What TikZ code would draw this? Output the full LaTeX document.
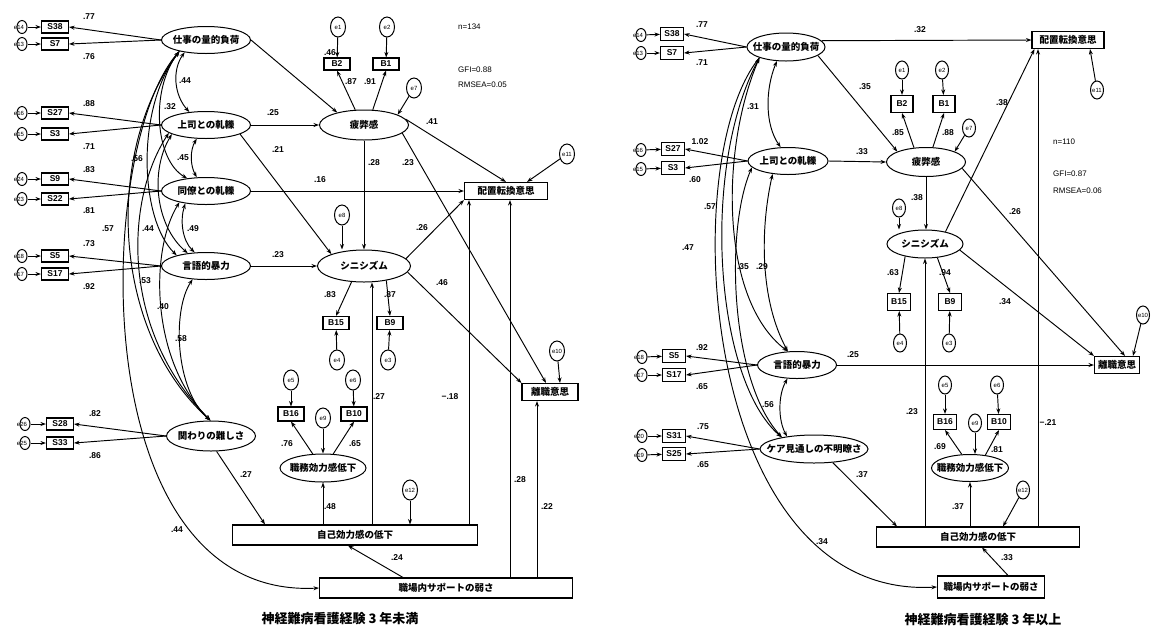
\documentclass[tikz,border=0pt]{standalone}
\usepackage{fontspec}
\setmainfont{Liberation Sans}
\newfontfamily\jp{Noto Sans CJK JP}
\usetikzlibrary{shapes.geometric,arrows.meta}
\newcommand\elab[1]{\makebox[0pt]{\kern-6pt #1}}
\begin{document}
\begin{tikzpicture}[x=1pt,y=-1pt,
  lat/.style={ellipse,draw,line width=1pt,inner sep=-20pt,font=\jp\bfseries\fontsize{9.5}{10}\selectfont},
  obs/.style={rectangle,draw,line width=1.1pt,inner sep=0pt,font=\bfseries\fontsize{8.5}{10}\selectfont},
  jbox/.style={rectangle,draw,line width=1.1pt,inner sep=0pt,font=\jp\bfseries\fontsize{9.5}{10}\selectfont},
  err/.style={ellipse,draw,line width=1pt,inner sep=-10pt,font=\fontsize{6}{6}\selectfont},
  errs/.style={err,minimum width=10pt,minimum height=13pt},
  errl/.style={err,minimum width=15pt,minimum height=20pt},
  errm/.style={err,minimum width=13pt,minimum height=18pt},
  obsS/.style={obs,minimum width=27pt,minimum height=12pt},
  obsR/.style={obs,minimum width=23pt,minimum height=13pt},
  lab/.style={font=\bfseries\fontsize{8.5}{9}\selectfont,inner sep=0pt},
  stat/.style={font=\fontsize{8}{8}\selectfont,inner sep=0pt,anchor=west},
  ttl/.style={font=\jp\bfseries\fontsize{13}{14}\selectfont,inner sep=0pt},
  arr/.style={line width=0.95pt,-{Stealth[length=5.5pt,width=4pt]}},
  dbl/.style={line width=0.95pt,{Stealth[length=5.5pt,width=4pt]}-{Stealth[length=5.5pt,width=4pt]}},
]
\fill[white] (0,0) rectangle (1153,633);
\useasboundingbox (0,0) rectangle (1153,633);

%================ LEFT MODEL ================
\node[errs] (le14) at (22,27) {\elab{e14}};
\node[obsS] (lS38) at (55,27) {S38};
\node[errs] (le13) at (22,44) {\elab{e13}};
\node[obsS] (lS7) at (55,44) {S7};
\node[errs] (le16) at (22,113) {\elab{e16}};
\node[obsS] (lS27) at (55,113) {S27};
\node[errs] (le15) at (22,134) {\elab{e15}};
\node[obsS] (lS3) at (55,134) {S3};
\node[errs] (le24) at (22,179) {\elab{e24}};
\node[obsS] (lS9) at (55,179) {S9};
\node[errs] (le23) at (22,199) {\elab{e23}};
\node[obsS] (lS22) at (55,199) {S22};
\node[errs] (le18) at (22,256) {\elab{e18}};
\node[obsS] (lS5) at (55,256) {S5};
\node[errs] (le17) at (22,274) {\elab{e17}};
\node[obsS] (lS17) at (55,274) {S17};
\node[errs] (le26) at (25,424) {\elab{e26}};
\node[obsS] (lS28) at (60,424) {S28};
\node[errs] (le25) at (25,443) {\elab{e25}};
\node[obsS] (lS33) at (60,443) {S33};

\node[lat,minimum width=89pt,minimum height=27pt] (LA) at (206,40) {仕事の量的負荷};
\node[lat,minimum width=89pt,minimum height=27pt] (LB) at (206,125) {上司との軋轢};
\node[lat,minimum width=89pt,minimum height=27pt] (LC) at (206,191) {同僚との軋轢};
\node[lat,minimum width=89pt,minimum height=27pt] (LD) at (206,266) {言語的暴力};
\node[lat,minimum width=89pt,minimum height=30pt] (LE) at (211,436) {関わりの難しさ};
\node[lat,minimum width=89pt,minimum height=30pt] (LF) at (364,125) {疲弊感};
\node[lat,minimum width=93pt,minimum height=32pt] (LG) at (364,266) {シニシズム};
\node[lat,minimum width=86pt,minimum height=28pt] (LH) at (323,468) {職務効力感低下};

\node[jbox,minimum width=83pt,minimum height=17pt] (LTO) at (506,191) {配置転換意思};
\node[jbox,minimum width=56pt,minimum height=17pt] (LTR) at (550,392) {離職意思};
\node[jbox,minimum width=245pt,minimum height=20pt] (LSE) at (355,535) {自己効力感の低下};
\node[jbox,minimum width=253pt,minimum height=20pt] (LSUP) at (446,588) {職場内サポートの弱さ};
\node[obs,minimum width=26pt,minimum height=12pt] (LB2) at (337,64) {B2};
\node[obs,minimum width=26pt,minimum height=12pt] (LB1) at (386,64) {B1};
\node[obs,minimum width=26pt,minimum height=13pt] (LB15) at (336,323) {B15};
\node[obs,minimum width=26pt,minimum height=13pt] (LB9) at (390,323) {B9};
\node[obs,minimum width=26pt,minimum height=14pt] (LB16) at (291,414) {B16};
\node[obs,minimum width=26pt,minimum height=14pt] (LB10) at (354,414) {B10};

\node[errl] (le1) at (338,27) {e1};
\node[errl] (le2) at (387,27) {e2};
\node[errl] (le7) at (414,88) {e7};
\node[errl] (le8) at (342,215) {e8};
\node[errl] (le4) at (337,360) {e4};
\node[errl] (le3) at (388,360) {e3};
\node[errl] (le5) at (291,380) {e5};
\node[errl] (le6) at (353,380) {e6};
\node[errl] (le9) at (323,418) {e9};
\node[errl] (le12) at (410,490) {e12};
\node[errl] (le10) at (557,351) {e10};
\node[errl] (le11) at (567,154) {e11};

\foreach \e/\s in {le14/lS38,le13/lS7,le16/lS27,le15/lS3,le24/lS9,le23/lS22,le18/lS5,le17/lS17,le26/lS28,le25/lS33}
  \draw[arr] (\e) -- (\s);
\foreach \f/\s in {LA/lS38,LA/lS7,LB/lS27,LB/lS3,LC/lS9,LC/lS22,LD/lS5,LD/lS17,LE/lS28,LE/lS33}
  \draw[arr] (\f.west) -- (\s.east);

\draw[arr] (LA.east) -- (LF.155);
\draw[arr] (LB.east) -- (LF.west);
\draw[arr] (LB.-15) -- (LG.160);
\draw[arr] (LC.east) -- (LTO.west);
\draw[arr] (LD.east) -- (LG.west);
\draw[arr] (LF.south) -- (LG.north);
\draw[arr] (LF.8) -- (LTO.north);
\draw[arr] (LF.-12) -- ([xshift=-4pt]LTR.north);
\draw[arr] (LG.10) -- (LTO.south west);
\draw[arr] (LG.-8) -- (LTR.north west);
\draw[arr] (LG.-128) -- (LB15.north);
\draw[arr] (LG.-33) -- (LB9.north);
\draw[arr] (le4) -- (LB15);
\draw[arr] (le3) -- (LB9);
\draw[arr] (le8) -- (le8 |- LG.north);
\draw[arr] (le7) -- (LF.17);
\draw[arr] (LF.120) -- (LB2.south);
\draw[arr] (LF.60) -- (LB1.south);
\draw[arr] (le1) -- (LB2);
\draw[arr] (le2) -- (LB1);
\draw[arr] (le5) -- (LB16);
\draw[arr] (le6) -- (LB10);
\draw[arr] (LH.126) -- (LB16.south);
\draw[arr] (LH.54) -- (LB10.south);
\draw[arr] (le9) -- (le9 |- LH.north);
\draw[arr] (LSE.north -| LH.south) -- (LH.south);
\draw[arr] ([xshift=17pt]LSE.north) -- ([xshift=8pt]LG.south);
\draw[arr] ([xshift=114pt]LSE.north) -- ([xshift=-37pt]LTO.south);
\draw[arr] ([xshift=64pt]LSUP.north) -- ([xshift=4pt]LTO.south);
\draw[arr] ([xshift=91pt]LSUP.north) -- ([xshift=-13pt]LTR.south);
\draw[arr] (le12) -- (le12 |- LSE.north);
\draw[arr] ([xshift=-43pt]LSUP.north) -- ([xshift=-7pt]LSE.south);
\draw[arr] (LE.-70) -- ([xshift=-90pt]LSE.north);
\draw[arr] (le11) -- ([xshift=21pt]LTO.north);
\draw[arr] (le10) -- ([xshift=10pt]LTR.north);
\draw[arr] (LA.-157) .. controls (95,140) and (80,600) .. (LSUP.west);

\draw[dbl] (LA.-150) .. controls (172,70) and (174,95) .. (LB.142);
\draw[dbl] (LA.-157) .. controls (150,90) and (155,160) .. (LC.146);
\draw[dbl] (LA.-157) .. controls (135,110) and (140,220) .. (LD.160);
\draw[dbl] (LA.-157) .. controls (105,150) and (110,330) .. (LE.92);
\draw[dbl] (LB.-124) .. controls (190,150) and (190,165) .. (LC.124);
\draw[dbl] (LB.-165) .. controls (150,170) and (155,225) .. (LD.145);
\draw[dbl] (LB.-168) .. controls (125,200) and (120,330) .. (LE.92);
\draw[dbl] (LC.-149) .. controls (180,220) and (182,240) .. (LD.130);
\draw[dbl] (LC.-157) .. controls (150,250) and (150,360) .. (LE.92);
\draw[dbl] (LD.-135) .. controls (172,310) and (175,390) .. (LE.92);

\node[lab] (a1) at (89,17) {.77};
\node[lab] (a2) at (89,57) {.76};
\node[lab] (a3) at (89,104) {.88};
\node[lab] (a4) at (89,147) {.71};
\node[lab] (a5) at (89,170) {.83};
\node[lab] (a6) at (89,211) {.81};
\node[lab] (a7) at (89,244) {.73};
\node[lab] (a8) at (89,287) {.92};
\node[lab] (a9) at (95,414) {.82};
\node[lab] (a10) at (95,456) {.86};
\node[lab] (a11) at (185,81) {.44};
\node[lab] (a12) at (170,107) {.32};
\node[lab] (a13) at (183,158) {.45};
\node[lab] (a14) at (137,159) {.56};
\node[lab] (a15) at (108,229) {.57};
\node[lab] (a16) at (148,229) {.44};
\node[lab] (a17) at (193,229) {.49};
\node[lab] (a18) at (145,281) {.53};
\node[lab] (a19) at (163,307) {.40};
\node[lab] (a20) at (181,339) {.58};
\node[lab] (a21) at (330,53) {.46};
\node[lab] (a22) at (273,113) {.25};
\node[lab] (a23) at (278,150) {.21};
\node[lab] (a24) at (320,180) {.16};
\node[lab] (a25) at (278,255) {.23};
\node[lab] (a26) at (351,82) {.87};
\node[lab] (a27) at (370,82) {.91};
\node[lab] (a28) at (432,122) {.41};
\node[lab] (a29) at (374,163) {.28};
\node[lab] (a30) at (408,163) {.23};
\node[lab] (a31) at (422,228) {.26};
\node[lab] (a32) at (442,283) {.46};
\node[lab] (a33) at (330,295) {.83};
\node[lab] (a34) at (390,295) {.87};
\node[lab] (a35) at (287,444) {.76};
\node[lab] (a36) at (355,444) {.65};
\node[lab] (a37) at (330,507) {.48};
\node[lab] (a38) at (379,397) {.27};
\node[lab] (a39) at (450,397) {−.18};
\node[lab] (a40) at (520,480) {.28};
\node[lab] (a41) at (547,507) {.22};
\node[lab] (a42) at (397,558) {.24};
\node[lab] (a43) at (246,475) {.27};
\node[lab] (a44) at (177,530) {.44};
\node[stat] (s1) at (458,27) {n=134};
\node[stat] (s2) at (458,70) {GFI=0.88};
\node[stat] (s3) at (458,85) {RMSEA=0.05};
\node[ttl] (T1) at (340,619) {神経難病看護経験 3 年未満};

%================ RIGHT MODEL ================
\node[errs] (re14) at (641,35) {\elab{e14}};
\node[obsR] (rS38) at (672,34) {S38};
\node[errs] (re13) at (641,53) {\elab{e13}};
\node[obsR] (rS7) at (672,53) {S7};
\node[errs] (re16) at (641,150) {\elab{e16}};
\node[obsR] (rS27) at (673,149) {S27};
\node[errs] (re15) at (641,169) {\elab{e15}};
\node[obsR] (rS3) at (673,168) {S3};
\node[errs] (re18) at (642,357) {\elab{e18}};
\node[obsR] (rS5) at (674,356) {S5};
\node[errs] (re17) at (642,375) {\elab{e17}};
\node[obsR] (rS17) at (674,375) {S17};
\node[errs] (re20) at (642,436) {\elab{e20}};
\node[obsR] (rS31) at (674,436) {S31};
\node[errs] (re19) at (642,455) {\elab{e19}};
\node[obsR] (rS25) at (674,454) {S25};

\node[lat,minimum width=78pt,minimum height=28pt] (RA) at (786,47) {仕事の量的負荷};
\node[lat,minimum width=80pt,minimum height=27pt] (RB) at (788,161) {上司との軋轢};
\node[lat,minimum width=79pt,minimum height=27pt] (RD) at (797,365) {言語的暴力};
\node[lat,minimum width=108pt,minimum height=28pt] (RF) at (814,449) {ケア見通しの不明瞭さ};
\node[lat,minimum width=79pt,minimum height=29pt] (RH) at (926,162) {疲弊感};
\node[lat,minimum width=76pt,minimum height=28pt] (RG) at (925,244) {シニシズム};
\node[lat,minimum width=77pt,minimum height=27pt] (RK) at (970,468) {職務効力感低下};

\node[jbox,minimum width=72pt,minimum height=17pt] (RTO) at (1068,40) {配置転換意思};
\node[jbox,minimum width=45pt,minimum height=17pt] (RTR) at (1117,365) {離職意思};
\node[jbox,minimum width=203pt,minimum height=20pt] (RSE) at (978,537) {自己効力感の低下};
\node[jbox,minimum width=107pt,minimum height=22pt] (RSUP) at (991,587) {職場内サポートの弱さ};
\node[obs,minimum width=22pt,minimum height=17pt] (rB2) at (902,104) {B2};
\node[obs,minimum width=22pt,minimum height=17pt] (rB1) at (944,104) {B1};
\node[obs,minimum width=23pt,minimum height=17pt] (rB15) at (899,302) {B15};
\node[obs,minimum width=23pt,minimum height=17pt] (rB9) at (950,302) {B9};
\node[obs,minimum width=23pt,minimum height=15pt] (rB16) at (945,422) {B16};
\node[obs,minimum width=23pt,minimum height=15pt] (rB10) at (999,422) {B10};

\node[errm] (re1) at (902,70) {e1};
\node[errm] (re2) at (942,70) {e2};
\node[errm] (re7) at (969,128) {e7};
\node[errm] (re8) at (899,208) {e8};
\node[errm] (re4) at (900,343) {e4};
\node[errm] (re3) at (949,343) {e3};
\node[errm] (re5) at (945,385) {e5};
\node[errm] (re6) at (997,385) {e6};
\node[errm] (re9) at (975,423) {e9};
\node[errm] (re12) at (1023,490) {e12};
\node[errm] (re10) at (1143,315) {e10};
\node[errm] (re11) at (1097,90) {e11};

\foreach \e/\s in {re14/rS38,re13/rS7,re16/rS27,re15/rS3,re18/rS5,re17/rS17,re20/rS31,re19/rS25}
  \draw[arr] (\e) -- (\s);
\foreach \f/\s in {RA/rS38,RA/rS7,RB/rS27,RB/rS3,RD/rS5,RD/rS17,RF/rS31,RF/rS25}
  \draw[arr] (\f.west) -- (\s.east);

\draw[arr] (RA.10) -- (RTO.west);
\draw[arr] (RA.-15) -- (RH.160);
\draw[arr] (RB.east) -- (RH.west);
\draw[arr] (RH.south) -- (RH.south |- RG.north);
\draw[arr] (re8) -- (re8 |- RG.north);
\draw[arr] (RG.31) -- ([xshift=3pt]RTO.south west);
\draw[arr] (RH.-10) -- ([xshift=8pt]RTR.north);
\draw[arr] (RG.-10) -- (RTR.north west);
\draw[arr] (re10) -- ([xshift=16pt]RTR.north);
\draw[arr] (re11) -- ([xshift=22pt]RTO.south);
\draw[arr] (RD.east) -- (RTR.west);
\draw[arr] (re7) -- (RH.20);
\draw[arr] (RH.130) -- (rB2.south);
\draw[arr] (RH.65) -- (rB1.south);
\draw[arr] (re1) -- (rB2);
\draw[arr] (re2) -- (rB1);
\draw[arr] (RG.-148) -- (rB15.north);
\draw[arr] (RG.-48) -- (rB9.north);
\draw[arr] (re4) -- (rB15);
\draw[arr] (re3) -- (rB9);
\draw[arr] (re5) -- (rB16);
\draw[arr] (re6) -- (rB10);
\draw[arr] (re9) -- (re9 |- RK.north);
\draw[arr] (RK.121) -- (rB16.south);
\draw[arr] (RK.40) -- (rB10.south);
\draw[arr] (RSE.north -| RK.south) -- (RK.south);
\draw[arr] (RSE.north -| RG.south) -- (RG.south);
\draw[arr] ([xshift=60pt]RSE.north) -- ([xshift=-30pt]RTO.south);
\draw[arr] (re12) -- ([xshift=25pt]RSE.north);
\draw[arr] ([xshift=17pt]RSUP.north) -- ([xshift=4pt]RSE.south);
\draw[arr] (RF.-36) -- ([xshift=-81pt]RSE.north);
\draw[arr] (RA.-158) .. controls (675,160) and (700,600) .. (RSUP.west);

\draw[dbl] (RA.-123) .. controls (765,90) and (765,125) .. (RB.118);
\draw[dbl] (RA.-158) .. controls (720,150) and (720,300) .. (RD.124);
\draw[dbl] (RA.-158) .. controls (700,170) and (715,380) .. (RF.160);
\draw[dbl] (RB.-140) .. controls (760,230) and (760,300) .. (RD.124);
\draw[dbl] (RB.-170) .. controls (725,230) and (730,380) .. (RF.160);
\draw[dbl] (RD.-125) .. controls (778,395) and (778,420) .. (RF.155);

\node[lab] (b1) at (702,25) {.77};
\node[lab] (b2) at (702,63) {.71};
\node[lab] (b3) at (700,142) {1.02};
\node[lab] (b4) at (695,180) {.60};
\node[lab] (b5) at (702,348) {.92};
\node[lab] (b6) at (702,387) {.65};
\node[lab] (b7) at (703,427) {.75};
\node[lab] (b8) at (703,465) {.65};
\node[lab] (b9) at (753,107) {.31};
\node[lab] (b10) at (710,207) {.57};
\node[lab] (b11) at (688,248) {.47};
\node[lab] (b12) at (743,267) {.35};
\node[lab] (b13) at (762,267) {.29};
\node[lab] (b14) at (768,405) {.56};
\node[lab] (b15) at (920,30) {.32};
\node[lab] (b16) at (865,87) {.35};
\node[lab] (b17) at (862,152) {.33};
\node[lab] (b18) at (898,133) {.85};
\node[lab] (b19) at (948,133) {.88};
\node[lab] (b20) at (1002,103) {.38};
\node[lab] (b21) at (917,198) {.38};
\node[lab] (b22) at (1015,212) {.26};
\node[lab] (b23) at (893,273) {.63};
\node[lab] (b24) at (945,273) {.94};
\node[lab] (b25) at (1005,302) {.34};
\node[lab] (b26) at (853,355) {.25};
\node[lab] (b27) at (912,412) {.23};
\node[lab] (b28) at (1048,423) {−.21};
\node[lab] (b29) at (940,447) {.69};
\node[lab] (b30) at (997,450) {.81};
\node[lab] (b31) at (958,507) {.37};
\node[lab] (b32) at (1007,558) {.33};
\node[lab] (b33) at (862,475) {.37};
\node[lab] (b34) at (822,542) {.34};
\node[stat] (s4) at (1053,142) {n=110};
\node[stat] (s5) at (1053,174) {GFI=0.87};
\node[stat] (s6) at (1053,191) {RMSEA=0.06};
\node[ttl] (T2) at (983,620) {神経難病看護経験 3 年以上};
\end{tikzpicture}
\end{document}
